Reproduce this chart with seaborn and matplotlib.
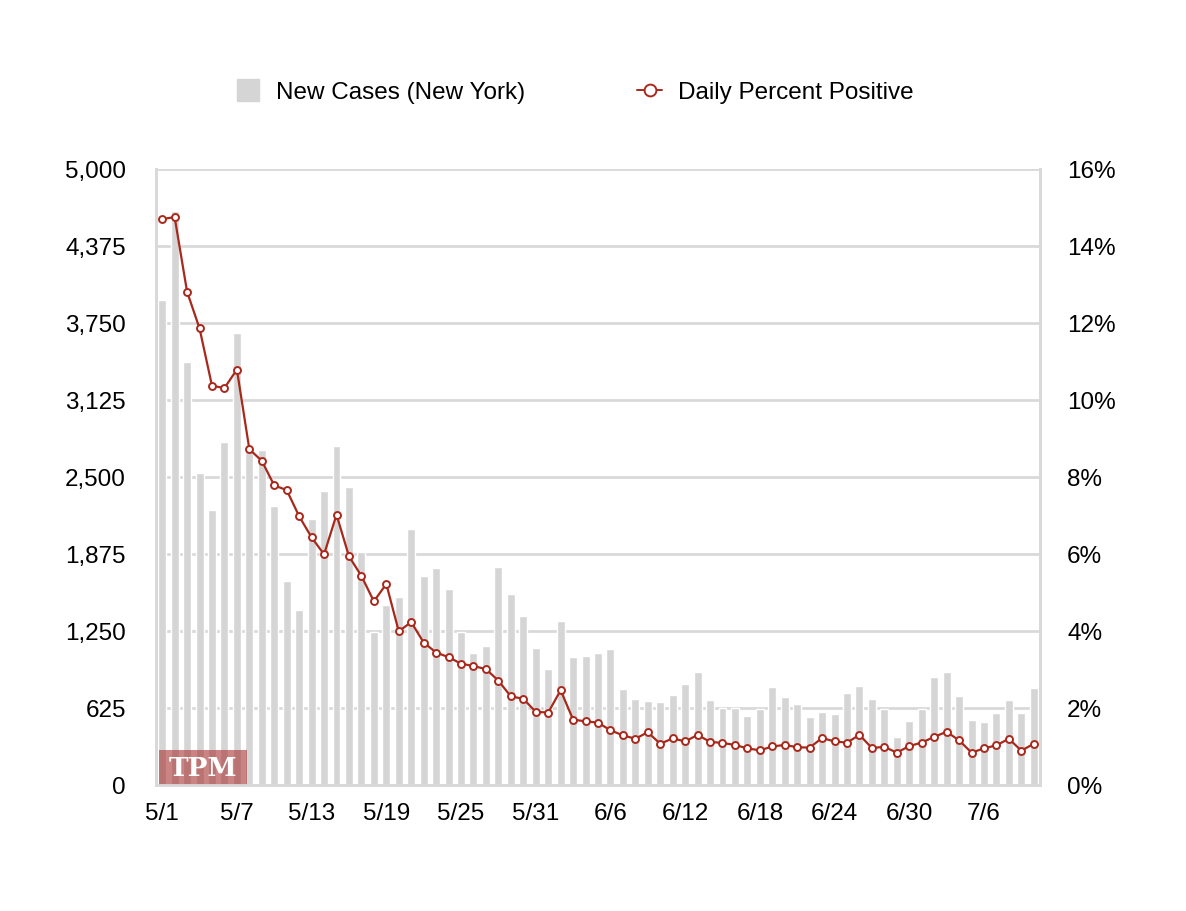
import matplotlib

matplotlib.use("Agg")
import matplotlib.pyplot as plt
import numpy as np
import pandas as pd
import seaborn as sns
from matplotlib.lines import Line2D
from matplotlib.patches import Rectangle
from matplotlib.ticker import FuncFormatter

# values (5/1 .. 7/10)
dates = pd.date_range("2020-05-01", "2020-07-10", freq="D")
new_cases = [
    3940, 4662, 3437, 2536, 2235, 2781, 3672, 2748, 2715, 2268,
    1656, 1424, 2159, 2384, 2755, 2417, 1887, 1242, 1463, 1523,
    2079, 1695, 1765, 1589, 1245, 1074, 1128, 1772, 1551, 1375,
    1112, 942, 1331, 1039, 1047, 1072, 1104, 779, 698, 682,
    674, 731, 820, 917, 690, 622, 622, 562, 617, 799,
    717, 660, 554, 595, 579, 750, 807, 701, 617, 391,
    522, 617, 880, 921, 725, 530, 514, 587, 693, 587,
    791,
]
pct_positive = [
    14.70, 14.75, 12.81, 11.86, 10.37, 10.31, 10.79, 8.72, 8.42, 7.78,
    7.66, 6.98, 6.43, 5.99, 7.02, 5.94, 5.43, 4.77, 5.22, 3.99,
    4.23, 3.70, 3.44, 3.32, 3.15, 3.09, 3.01, 2.71, 2.30, 2.24,
    1.90, 1.88, 2.46, 1.70, 1.65, 1.62, 1.42, 1.29, 1.20, 1.37,
    1.07, 1.21, 1.13, 1.30, 1.12, 1.09, 1.04, 0.95, 0.90, 1.00,
    1.04, 0.98, 0.97, 1.22, 1.13, 1.10, 1.30, 0.96, 0.99, 0.84,
    1.01, 1.10, 1.25, 1.38, 1.16, 0.84, 0.95, 1.03, 1.20, 0.89,
    1.07,
]
left_ticks = [0, 625, 1250, 1875, 2500, 3125, 3750, 4375, 5000]
right_ticks = [0, 2, 4, 6, 8, 10, 12, 14, 16]

BAR = "#d5d5d5"
RED = "#a8291c"
GRID = "#d9d9d9"
FS = 17.5

df = pd.DataFrame({"day": [f"{d.month}/{d.day}" for d in dates], "cases": new_cases, "pct": pct_positive})
df["pos"] = np.arange(len(df))

sns.set_theme(style="white")
plt.rcParams["font.family"] = ["Liberation Sans", "DejaVu Sans"]
plt.rcParams["text.color"] = "black"

fig = plt.figure(figsize=(11.86, 9.12), dpi=100)
ax = fig.add_axes([0.1315, 0.1382, 0.7454, 0.6754])
ax2 = ax.twinx()

ax.set_axisbelow(True)
sns.barplot(data=df, x="day", y="cases", order=list(df.day), color=BAR, width=0.64,
            saturation=1, ax=ax, zorder=2)
ax.set_ylim(0, 5000)
ax.set_yticks(left_ticks)
ax.yaxis.set_major_formatter(FuncFormatter(lambda v, _: f"{int(v):,}"))
ax.set_xlim(-0.5, len(df) - 0.5)
ax.set_xticks(df.pos[::6], df.day[::6])
ax.grid(axis="y", color=GRID, lw=2)
ax.set_xlabel("")
ax.set_ylabel("")

sns.lineplot(data=df, x="pos", y="pct", color=RED, lw=1.6, marker="o", markersize=5,
             markerfacecolor="white", markeredgecolor=RED, markeredgewidth=1.4, ax=ax2)
ax2.set_ylim(0, 16)
ax2.set_yticks(right_ticks)
ax2.yaxis.set_major_formatter(FuncFormatter(lambda v, _: f"{int(v)}%"))
ax2.set_xlim(-0.5, len(df) - 0.5)
ax2.set_ylabel("")
ax2.grid(False)

for a in (ax, ax2):
    for sp in a.spines.values():
        sp.set_color(GRID)
        sp.set_linewidth(2)
    a.spines["top"].set_visible(False)
    a.tick_params(length=0, labelsize=FS, colors="black")
ax.tick_params(axis="y", pad=21.5)
ax2.tick_params(axis="y", pad=19.5)
ax.tick_params(axis="x", pad=12)

# TPM watermark
ax.add_patch(Rectangle((0.0034, 0.0), 0.0995, 0.057, transform=ax.transAxes,
                       color="#a83232", alpha=0.6, lw=0, zorder=5))
ax.text(0.053, 0.029, "TPM", transform=ax.transAxes, ha="center", va="center",
        color="white", fontsize=19, fontweight="bold", family="DejaVu Serif", zorder=6)

handles = [
    Line2D([0], [0], marker="s", ls="", mfc=BAR, mec=BAR, ms=16.5, label="New Cases (New York)"),
    Line2D([0], [0], color=RED, lw=1.4, marker="o", ms=8.5, mfc="white", mec=RED, mew=1.4,
           label="Daily Percent Positive"),
]
fig.legend(handles=handles, loc="center", bbox_to_anchor=(0.4846, 0.898), ncol=2, frameon=False,
           fontsize=FS, columnspacing=4.6, handlelength=1.0, handletextpad=0.66, labelcolor="black")

fig.savefig("out.png", dpi=100)
